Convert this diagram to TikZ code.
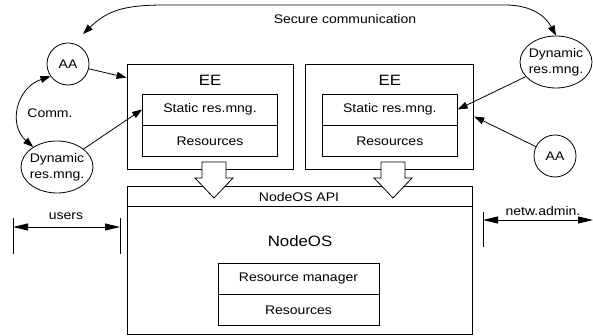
\documentclass[tikz,border=0pt]{standalone}
\usepackage{fontspec}
\setmainfont{Liberation Sans}[FakeStretch=1.12]
\usetikzlibrary{arrows.meta,positioning,shapes.geometric}
\newcommand{\lblsize}{\fontsize{12.5}{16}\selectfont}
\newcommand{\ttlsize}{\fontsize{15}{17}\selectfont}

\begin{document}
\begin{tikzpicture}[x=1pt,y=-1pt,
				line width=0.8pt,
				node distance=0pt,
				frame/.style={draw,inner sep=0pt},
				inbox/.style={draw,minimum width=135pt,minimum height=31pt,inner sep=0pt,font=\lblsize},
				agent/.style={draw,circle,minimum size=42pt,inner sep=0pt,font=\lblsize},
				dyn/.style={draw,ellipse,minimum width=72pt,minimum height=52pt,inner xsep=-4pt,inner ysep=0pt,
					align=center,font=\lblsize},
				lbl/.style={font=\lblsize,inner sep=1pt},
				ttl/.style={font=\ttlsize,inner sep=1pt},
				arr/.style={-{Triangle[length=10pt,width=7pt]}},
				dbl/.style={{Triangle[length=10pt,width=7pt]}-{Triangle[length=10pt,width=7pt]}},
				dim/.style={{Triangle[length=15pt,width=7pt]}-{Triangle[length=15pt,width=7pt]}}]
				\useasboundingbox (0,0) rectangle (593,336);
				\node[frame,minimum width=166pt,minimum height=105pt] (eeL) at (210,116.5) {};
				\node[frame,minimum width=168pt,minimum height=105pt,right=12pt of eeL] (eeR) {};
				\node[ttl,below=10pt of eeL.north] (eeLt) {EE};
				\node[ttl,below=10pt of eeR.north] (eeRt) {EE};
				\node[inbox,below=30pt of eeL.north] (statL) {Static res.mng.};
				\node[inbox,below=of statL] (resL) {Resources};
				\node[inbox,below=30pt of eeR.north] (statR) {Static res.mng.};
				\node[inbox,below=of statR] (resR) {Resources};
				\node[frame,minimum width=345pt,minimum height=148pt] (nos) at (299.5,260) {};
				\draw ([yshift=-21pt]nos.north west) -- ([yshift=-21pt]nos.north east);
				\node[lbl] (api) at (299,197) {NodeOS API};
				\node[ttl] (nosT) at (300,241) {NodeOS};
				\node[inbox,minimum width=161pt] (rman) at (298.5,278.5) {Resource manager};
				\node[inbox,minimum width=161pt,below=of rman] (rres) {Resources};
				\foreach \cx in {214,393}
					\draw[fill=white] (\cx-12,162) -- (\cx+12,162) -- (\cx+12,178) -- (\cx+19,178)
						-- (\cx,198) -- (\cx-19,178) -- (\cx-12,178) -- cycle;
				\node[agent] (aaL) at (68,64) {AA};
				\node[agent] (aaR) at (555,156) {AA};
				\node[dyn] (dynL) at (57,167) {Dynamic\\res.mng.};
				\node[dyn] (dynR) at (556,62) {Dynamic\\res.mng.};
				\draw[arr] (aaL) -- ([yshift=-14pt]eeL.north west);
				\draw[arr] (dynL) -- (statL.west);
				\draw[arr] (dynR) -- (statR.east);
				\draw[arr] (aaR) -- (eeR.east);
				\coordinate (secL) at (83,34);
				\draw[dbl] (secL) .. controls (108,10) and (125,5) .. (165,5) -- (505,5)
					.. controls (530,5) and (545,15) .. (dynR.north);
				\node[lbl] (secT) at (345,19) {Secure communication};
				\draw[dbl] (aaL.215) .. controls (16,88) and (8,125) .. (dynL.140);
				\node[lbl] (commT) at (50,113) {Comm.};
				\coordinate (usrA) at (13,218);
				\coordinate (usrB) at (120,218);
				\draw (usrA) -- ++(0,36);
				\draw (usrB) -- ++(0,36);
				\draw[dim] ([yshift=-9pt]usrA) -- ([yshift=-9pt]usrB);
				\node[lbl] (usrT) at (66,216) {users};
				\coordinate (admA) at (483,212);
				\coordinate (admB) at (593,220);
				\draw (admA) -- ++(0,35);
				\draw[dim] ([yshift=-8pt]admA) -- (admB);
				\node[lbl] (admT) at (543,211) {netw.admin.};
			\end{tikzpicture}
\end{document}
